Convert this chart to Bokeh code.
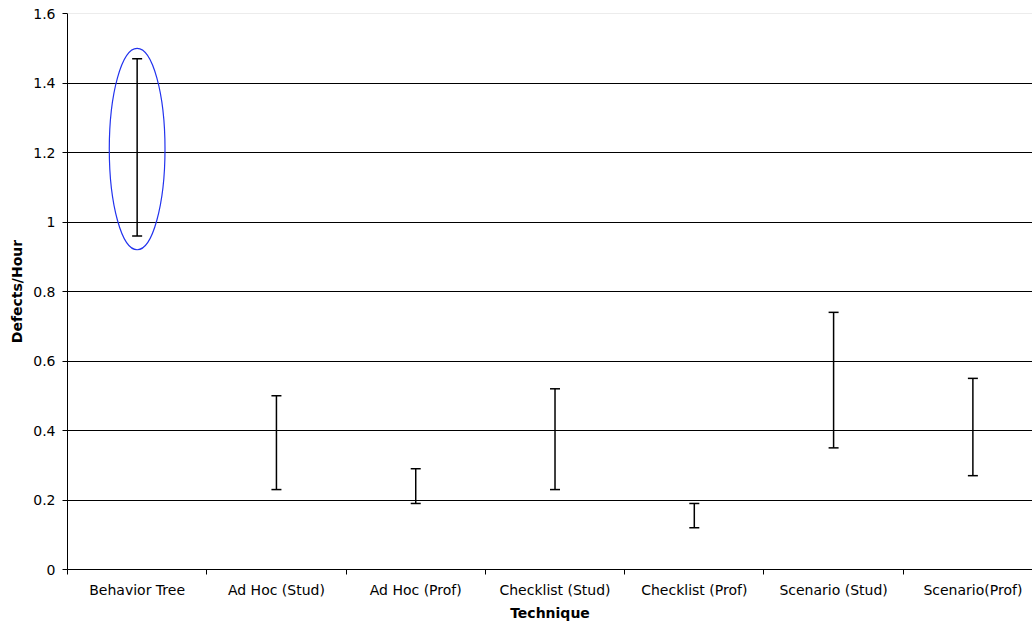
from bokeh.plotting import figure
from bokeh.models import FixedTicker, Whisker, TeeHead, ColumnDataSource, Span
from bokeh.embed import file_html
from bokeh.resources import INLINE

techniques = ["Behavior Tree", "Ad Hoc (Stud)", "Ad Hoc (Prof)", "Checklist (Stud)",
              "Checklist (Prof)", "Scenario (Stud)", "Scenario(Prof)"]
lower = [0.96, 0.23, 0.19, 0.23, 0.12, 0.35, 0.27]
upper = [1.47, 0.50, 0.29, 0.52, 0.19, 0.74, 0.55]
y_ticks = [0, 0.2, 0.4, 0.6, 0.8, 1.0, 1.2, 1.4, 1.6]
y_tick_labels = ["0", "0.2", "0.4", "0.6", "0.8", "1", "1.2", "1.4", "1.6"]
# highlight ellipse around the first category
highlight_index = 0
highlight_center = 1.21
highlight_height = 0.58
highlight_width = 0.40

FONT = "DejaVu Sans"
centers = [i + 0.5 for i in range(len(techniques))]

p = figure(width=1032, height=623, output_backend="svg", toolbar_location=None,
           x_range=(0, 6.928), y_range=(0, 1.6),
           min_border_left=67, min_border_right=0, min_border_top=13, min_border_bottom=54)
p.outline_line_color = None
p.background_fill_color = "white"
p.border_fill_color = "white"

# grid
p.xgrid.visible = False
p.ygrid.ticker = FixedTicker(ticks=y_ticks[1:-1])
p.ygrid.grid_line_color = "black"
p.ygrid.grid_line_width = 1
p.add_layout(Span(location=y_ticks[-1], dimension="width", line_color="#d9d9d9", line_width=1))

# x axis
xa = p.xaxis[0]
xa.ticker = FixedTicker(ticks=centers, minor_ticks=list(range(len(techniques) + 1)))
xa.major_label_overrides = {c: t for c, t in zip(centers, techniques)}
xa.major_tick_out = 0
xa.major_tick_in = 0
xa.minor_tick_out = 5
xa.minor_tick_in = 0
xa.minor_tick_line_color = "black"
xa.axis_line_color = "black"
xa.major_label_standoff = 7
xa.major_label_text_font = FONT
xa.major_label_text_font_size = "14px"
xa.major_label_text_color = "black"
xa.axis_label = "Technique"
xa.axis_label_text_font = FONT
xa.axis_label_text_font_size = "14px"
xa.axis_label_text_font_style = "bold"
xa.axis_label_text_color = "black"
xa.axis_label_standoff = 4

# y axis
ya = p.yaxis[0]
ya.ticker = FixedTicker(ticks=y_ticks, minor_ticks=[])
ya.major_label_overrides = {t: l for t, l in zip(y_ticks, y_tick_labels)}
ya.major_tick_out = 5
ya.major_tick_in = 0
ya.major_tick_line_color = "black"
ya.axis_line_color = "black"
ya.major_label_standoff = 7
ya.major_label_text_font = FONT
ya.major_label_text_font_size = "14px"
ya.major_label_text_color = "black"
ya.axis_label = "Defects/Hour"
ya.axis_label_text_font = FONT
ya.axis_label_text_font_size = "14px"
ya.axis_label_text_font_style = "bold"
ya.axis_label_text_color = "black"
ya.axis_label_standoff = 5

src = ColumnDataSource(dict(x=centers, lower=lower, upper=upper))
w = Whisker(source=src, base="x", upper="upper", lower="lower", dimension="height",
            line_color="black", line_width=1.5,
            upper_head=TeeHead(size=10, line_color="black", line_width=1.5),
            lower_head=TeeHead(size=10, line_color="black", line_width=1.5))
p.add_layout(w)

p.ellipse(x=[centers[highlight_index]], y=[highlight_center], width=highlight_width,
          height=highlight_height, fill_color=None, line_color="#2233ee", line_width=1.2)

open("out.html", "w").write(file_html(p, INLINE))
